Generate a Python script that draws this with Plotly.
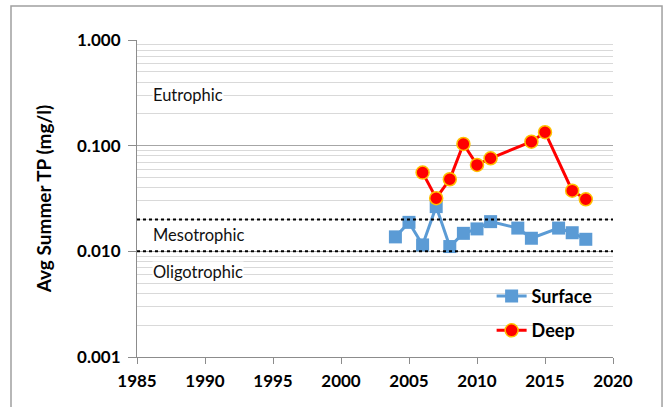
import math
import plotly.graph_objects as go

surface_years = [2004, 2005, 2006, 2007, 2008, 2009, 2010, 2011, 2013, 2014, 2016, 2017, 2018]
surface_tp = [0.0137, 0.0188, 0.0115, 0.0265, 0.0111, 0.0148, 0.0163, 0.0191, 0.0166, 0.0133, 0.0166, 0.0150, 0.0130]

deep_years = [2006, 2007, 2008, 2009, 2010, 2011, 2014, 2015, 2017, 2018]
deep_tp = [0.0556, 0.0318, 0.0481, 0.1038, 0.0657, 0.0760, 0.109, 0.134, 0.0375, 0.0311]

thresholds = [0.02, 0.01]
zone_labels = ["Eutrophic", "Mesotrophic", "Oligotrophic"]
zone_label_y = [0.30, 0.0143, 0.0064]

y_ticks = [0.001, 0.01, 0.1, 1.0]
y_ticktext = ["0.001", "0.010", "0.100", "1.000"]
x_ticks = [1985, 1990, 1995, 2000, 2005, 2010, 2015, 2020]

minor_vals = [m * d for d in [0.001, 0.01, 0.1] for m in range(2, 10)]

FONT = "Lato"

fig = go.Figure()
fig.add_trace(go.Scatter(
    x=surface_years, y=surface_tp, mode="lines+markers", name="Surface",
    line=dict(color="#5b9bd5", width=3),
    marker=dict(symbol="square", size=13, color="#5b9bd5"),
    legendgroup="a",
))
fig.add_trace(go.Scatter(
    x=deep_years, y=deep_tp, mode="lines+markers", name="Deep",
    line=dict(color="#ff0000", width=3),
    marker=dict(symbol="circle", size=13, color="#ff0000", line=dict(color="#ffc000", width=1.5)),
    legendgroup="b",
))

for t in thresholds:
    fig.add_shape(type="line", xref="paper", x0=0, x1=1, yref="y", y0=t, y1=t,
                  line=dict(color="black", width=2, dash="dot"))

for lab, yv in zip(zone_labels, zone_label_y):
    fig.add_annotation(text=lab, x=1986.1, y=math.log10(yv), xref="x", yref="y", xanchor="left",
                       showarrow=False, bgcolor="white", borderpad=0,
                       font=dict(family=FONT, size=16.5, color="#111"))

# outer chart border
fig.add_shape(type="rect", xref="paper", yref="paper", x0=-0.2647, x1=1.103, y0=-0.3, y1=1.107,
              line=dict(color="#a0a0a0", width=1.5), layer="above")

fig.update_layout(
    width=669, height=407,
    margin=dict(l=137, r=56, t=40, b=50),
    paper_bgcolor="white", plot_bgcolor="white",
    font=dict(family=FONT, color="black"),
    showlegend=True,
    legend=dict(x=0.745, y=0.25, xanchor="left", yanchor="top",
                bgcolor="rgba(255,255,255,0)", tracegroupgap=8,
                font=dict(family=FONT, size=18, color="black", weight="bold")),
    xaxis=dict(range=[1985, 2020], tickvals=x_ticks, showgrid=False,
               showline=True, linecolor="#8c8c8c", linewidth=1,
               ticks="outside", ticklen=6, tickcolor="#8c8c8c", ticklabelstandoff=3,
               tickfont=dict(family=FONT, size=17, weight="bold"), zeroline=False),
    yaxis=dict(type="log", range=[-3, 0], tickvals=y_ticks, ticktext=y_ticktext,
               showgrid=True, gridcolor="#a6a6a6", gridwidth=1,
               showline=True, linecolor="#8c8c8c", linewidth=1,
               ticks="outside", ticklen=8, tickcolor="#8c8c8c", ticklabelstandoff=4,
               tickfont=dict(family=FONT, size=17, weight="bold"),
               minor=dict(tickvals=minor_vals, showgrid=True, gridcolor="#d9d9d9", gridwidth=1, ticks=""),
               title=dict(text="Avg Summer TP (mg/l)", font=dict(family=FONT, size=19, weight="bold"), standoff=20),
               zeroline=False),
)

fig.write_html("out.html", config={"displayModeBar": False},
               post_script="document.body.style.margin='0';document.body.style.overflow='hidden';")
